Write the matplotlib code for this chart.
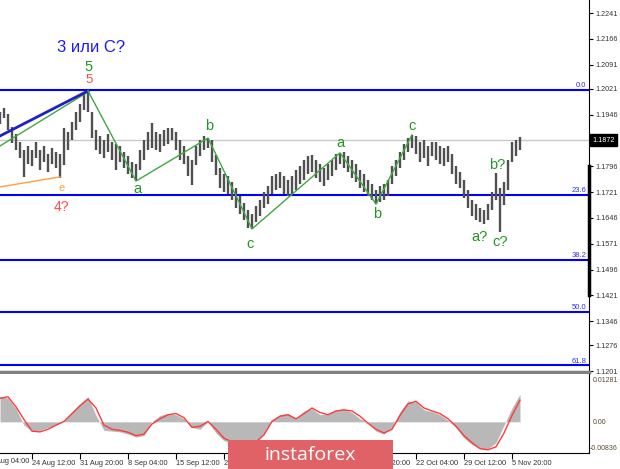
import matplotlib
matplotlib.use("Agg")
import matplotlib.pyplot as plt
import matplotlib.transforms as mtransforms
from matplotlib.patches import Rectangle
import numpy as np

# price bars (H/L), one per bar
highs = [1.1954, 1.1965, 1.1948, 1.1910, 1.1890, 1.1866, 1.1843, 1.1855, 1.1843, 1.1866,
         1.1843, 1.1855, 1.1832, 1.1849, 1.1837, 1.1832, 1.1907, 1.1896, 1.1925, 1.1954,
         1.1977, 1.2012, 1.2015, 1.1954, 1.1901, 1.1884, 1.1872, 1.1890, 1.1866, 1.1861,
         1.1855, 1.1837, 1.1826, 1.1808, 1.1803, 1.1843, 1.1872, 1.1896, 1.1922, 1.1896,
         1.1890, 1.1901, 1.1907, 1.1907, 1.1896, 1.1872, 1.1855, 1.1826, 1.1814, 1.1855,
         1.1872, 1.1884, 1.1878, 1.1872, 1.1829, 1.1791, 1.1774, 1.1768, 1.1750, 1.1733,
         1.1710, 1.1689, 1.1669, 1.1657, 1.1681, 1.1698, 1.1721, 1.1739, 1.1768, 1.1774,
         1.1779, 1.1768, 1.1756, 1.1768, 1.1785, 1.1797, 1.1814, 1.1826, 1.1829, 1.1814,
         1.1803, 1.1791, 1.1803, 1.1814, 1.1832, 1.1835, 1.1837, 1.1826, 1.1814, 1.1803,
         1.1785, 1.1774, 1.1756, 1.1744, 1.1727, 1.1739, 1.1744, 1.1756, 1.1797, 1.1814,
         1.1837, 1.1861, 1.1878, 1.1887, 1.1884, 1.1866, 1.1872, 1.1855, 1.1866, 1.1866,
         1.1855, 1.1849, 1.1855, 1.1832, 1.1797, 1.1779, 1.1756, 1.1727, 1.1698, 1.1686,
         1.1675, 1.1669, 1.1686, 1.1721, 1.1776, 1.1733, 1.1750, 1.1814, 1.1866, 1.1872,
         1.1881]
lows = [1.1919, 1.1936, 1.1901, 1.1864, 1.1843, 1.1820, 1.1765, 1.1803, 1.1797, 1.1820,
        1.1785, 1.1808, 1.1779, 1.1803, 1.1791, 1.1762, 1.1800, 1.1843, 1.1872, 1.1901,
        1.1925, 1.1959, 1.1954, 1.1878, 1.1843, 1.1832, 1.1820, 1.1837, 1.1814, 1.1785,
        1.1808, 1.1791, 1.1774, 1.1762, 1.1753, 1.1785, 1.1814, 1.1843, 1.1849, 1.1843,
        1.1837, 1.1855, 1.1861, 1.1872, 1.1843, 1.1814, 1.1803, 1.1768, 1.1742, 1.1800,
        1.1826, 1.1843, 1.1849, 1.1808, 1.1771, 1.1733, 1.1721, 1.1715, 1.1698, 1.1675,
        1.1657, 1.1640, 1.1617, 1.1614, 1.1634, 1.1652, 1.1675, 1.1686, 1.1715, 1.1727,
        1.1733, 1.1715, 1.1710, 1.1715, 1.1727, 1.1744, 1.1756, 1.1774, 1.1779, 1.1762,
        1.1750, 1.1739, 1.1756, 1.1768, 1.1785, 1.1803, 1.1791, 1.1779, 1.1762, 1.1750,
        1.1733, 1.1721, 1.1710, 1.1698, 1.1686, 1.1692, 1.1698, 1.1710, 1.1744, 1.1768,
        1.1791, 1.1814, 1.1837, 1.1849, 1.1832, 1.1808, 1.1820, 1.1797, 1.1826, 1.1814,
        1.1803, 1.1797, 1.1808, 1.1774, 1.1744, 1.1733, 1.1704, 1.1675, 1.1652, 1.1640,
        1.1634, 1.1628, 1.1640, 1.1669, 1.1698, 1.1605, 1.1684, 1.1727, 1.1808, 1.1826,
        1.1843]
last_price = 1.1872

# wave markup
wave_x = [22, 34, 52, 63, 85, 94, 103]
wave_y = [1.2015, 1.1753, 1.1878, 1.1614, 1.1835, 1.1686, 1.1887]
trend_x = [0, 22]
trend_blue = [1.1884, 1.2015]
trend_green = [1.1855, 1.2012]
orange_x = [0, 15]
orange_y = [1.1736, 1.1765]

# fibonacci levels
fib_names = ["0.0", "23.6", "38.2", "50.0", "61.8"]
fib_prices = [1.2018, 1.1713, 1.1524, 1.1373, 1.1218]

price_ticks = [1.2241, 1.2166, 1.2091, 1.2021, 1.1946, 1.1796, 1.1721, 1.1646,
               1.1571, 1.1496, 1.1421, 1.1346, 1.1276, 1.1201]

# oscillator, every second bar
osc_hist = [0.0069, 0.0063, 0.0035, -0.0009, -0.0025, -0.0023, -0.0015, -0.0009, 0.0001, 0.0027,
            0.0048, 0.0067, 0.0017, -0.0023, -0.0025, -0.0027, -0.0033, -0.0041, -0.0037, 0.0001,
            0.0017, 0.0022, 0.0019, 0.0008, -0.0015, -0.0020, 0.0000, -0.0030, -0.0051, -0.0056,
            -0.0058, -0.0058, -0.0056, -0.0030, 0.0006, 0.0019, 0.0022, 0.0008, 0.0029, 0.0035,
            0.0019, 0.0022, 0.0032, 0.0035, 0.0025, 0.0008, -0.0002, -0.0025, -0.0033, -0.0015,
            0.0027, 0.0056, 0.0053, 0.0032, 0.0027, 0.0019, 0.0004, -0.0015, -0.0044, -0.0061,
            -0.0072, -0.0072, -0.0056, -0.0009, 0.0037, 0.0074]
osc_signal = [0.0063, 0.0067, 0.0040, 0.0006, -0.0025, -0.0027, -0.0020, -0.0009, 0.0001, 0.0022,
              0.0043, 0.0061, 0.0037, -0.0009, -0.0020, -0.0023, -0.0028, -0.0037, -0.0033, -0.0006,
              0.0008, 0.0019, 0.0022, 0.0011, -0.0015, -0.0012, 0.0001, -0.0020, -0.0044, -0.0054,
              -0.0056, -0.0056, -0.0054, -0.0035, 0.0001, 0.0015, 0.0019, 0.0008, 0.0022, 0.0037,
              0.0025, 0.0019, 0.0029, 0.0032, 0.0029, 0.0015, -0.0004, -0.0020, -0.0030, -0.0020,
              0.0017, 0.0048, 0.0055, 0.0037, 0.0029, 0.0022, 0.0008, -0.0012, -0.0037, -0.0056,
              -0.0072, -0.0075, -0.0067, -0.0030, 0.0017, 0.0058]
osc_max = 0.01281
osc_min = -0.00836

date_pos = [-4, 8, 20, 32, 44, 56, 68, 80, 92, 104, 116, 128]
date_labels = ["17 Aug 04:00", "24 Aug 12:00", "31 Aug 20:00", "8 Sep 04:00", "15 Sep 12:00",
               "22 Sep 20:00", "30 Sep 04:00", "7 Oct 12:00", "14 Oct 20:00", "22 Oct 04:00",
               "29 Oct 12:00", "5 Nov 20:00"]

W, H = 620, 469
small = "Liberation Sans"
fig = plt.figure(figsize=(6.2, 4.69), dpi=100)
ax = fig.add_axes([0, 1 - 372 / H, 589 / W, 372 / H])
ax2 = fig.add_axes([0, (H - 453) / H, 589 / W, 79 / H])

xlim = (0, 147.25)
bar_x = np.arange(len(highs))

# ---- main price panel
ax.set_xlim(*xlim)
ax.set_ylim(1.11983, 1.2279)
ax.axhline(last_price, color="#c8c8c8", lw=1)
for name, p in zip(fib_names, fib_prices):
    ax.axhline(p, color="#0000ff", lw=1.5)
    ax.text(146.6, p + 0.0002, name, color="#3030ff", fontsize=5.5, ha="right", va="bottom",
            family=small)
ax.vlines(bar_x, lows, highs, color="#505050", lw=1.7)
ax.plot(orange_x, orange_y, color="#ffa040", lw=1)
ax.plot(trend_x, trend_green, color="#40a840", lw=1)
ax.plot(trend_x, trend_blue, color="#2020c8", lw=2)
ax.plot(wave_x, wave_y, color="#40a840", lw=1)

txt = dict(ha="center", va="center", family="Liberation Sans")
green = "#1f981f"
red = "#ff4a4a"
ax.text(22.75, 1.2142, "3 или С?", color="#1a1aff", fontsize=12, **txt)
ax.text(22.25, 1.2084, "5", color=green, fontsize=10.5, **txt)
ax.text(22.25, 1.2046, "5", color=red, fontsize=9.5, **txt)
ax.text(15.5, 1.1733, "e", color="#ffa040", fontsize=8, **txt)
ax.text(15.25, 1.1678, "4?", color=red, fontsize=10, **txt)
for x, y, s in [(34.25, 1.1730, "a"), (52.25, 1.1913, "b"), (62.5, 1.1570, "c"),
                (85.0, 1.1864, "a"), (94.25, 1.1657, "b"), (103.0, 1.1913, "c"),
                (124.25, 1.1800, "b?"), (120.0, 1.1591, "a?"), (125.0, 1.1576, "c?")]:
    ax.text(x, y, s, color=green, fontsize=10.5, **txt)

ax.yaxis.tick_right()
ax.set_yticks(price_ticks)
ax.set_yticklabels([f"{t:.4f}" for t in price_ticks], family=small)
ax.tick_params(axis="y", length=3, width=0.8, pad=1.5, labelsize=5.2, labelcolor="#333333")
ax.set_xticks([])
for s in ["top", "left"]:
    ax.spines[s].set_visible(False)
ax.spines["right"].set_color("black")
ax.spines["bottom"].set_color("#808080")
ax.spines["bottom"].set_linewidth(2.5)
# black scale strip on the price axis
ax.plot([147.35, 147.35], [1.1796, 1.1421], color="black", lw=2.5, clip_on=False)
# current price box
trans = mtransforms.blended_transform_factory(ax.transAxes, ax.transData)
ax.text(1.006, last_price, f"{last_price:.4f}", transform=trans, color="white", fontsize=5.2,
        va="center", ha="left", family=small,
        bbox=dict(boxstyle="square,pad=0.3", fc="black", ec="black"))

# ---- oscillator panel
ind_x = np.arange(0, 131, 2)
ax2.set_xlim(*xlim)
ax2.set_ylim(osc_min, osc_max)
ax2.fill_between(ind_x, 0, osc_hist, color="#b8b8b8", lw=0)
ax2.plot(ind_x, osc_signal, color="#ff3a3a", lw=1)
ax2.set_yticks([])
for lab, xf, yf in [("0.01281", 1.007, 0.92), ("0.00", 1.007, 0.392), ("-0.00836", 1.002, 0.06)]:
    ax2.text(xf, yf, lab, transform=ax2.transAxes, fontsize=5.0, color="#5a4a30",
             ha="left", va="center", family=small)

# date axis: labels start just right of their tick
shift = mtransforms.ScaledTranslation(2 / 100, 0, fig.dpi_scale_trans)
ax2.set_xticks(date_pos[1:])
ax2.set_xticklabels(date_labels[1:], ha="left", family=small)
for lab in ax2.get_xticklabels():
    lab.set_transform(lab.get_transform() + shift)
ax2.tick_params(axis="x", length=4, width=0.8, pad=1, labelsize=5.3, labelcolor="#333333")
xtrans = mtransforms.blended_transform_factory(ax2.transData, ax2.transAxes)
ax2.text(date_pos[0], -0.06, date_labels[0], transform=xtrans + shift, clip_on=False,
         fontsize=5.3, color="#333333", ha="left", va="top", family=small)
ax2.spines["top"].set_visible(False)
ax2.spines["left"].set_visible(False)

# logo
fig.patches.append(Rectangle((228 / W, 0), 165 / W, 29 / H, transform=fig.transFigure,
                             facecolor="#e06266", edgecolor="none"))
fig.text(310 / W, 14 / H, "instaforex", color="white", fontsize=14, ha="center", va="center",
         family="Open Sans")

fig.savefig("out.png", dpi=100)
